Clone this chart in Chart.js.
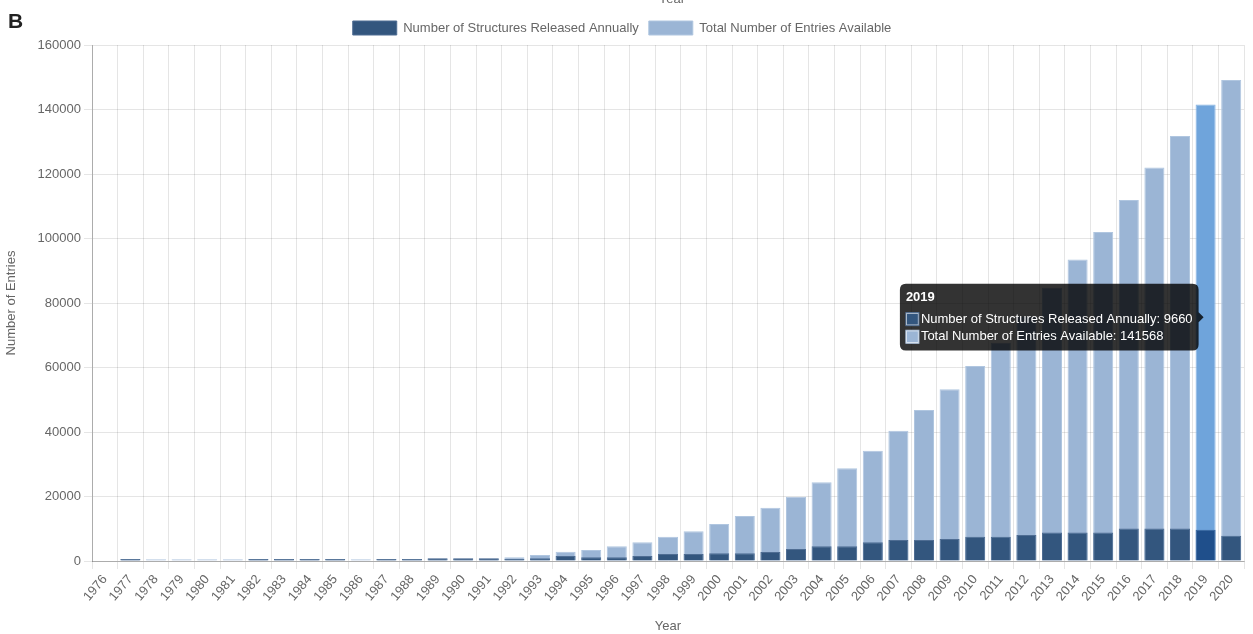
<!DOCTYPE html>
<html><head><meta charset="utf-8">
<script src="https://cdn.jsdelivr.net/npm/chart.js@4"></script>
<style>
html,body{margin:0;padding:0;background:#fff;}
#wrap{position:relative;width:1253px;height:634px;overflow:hidden;}
#lbl{position:absolute;left:8px;top:10px;font:bold 21px 'Liberation Sans',Arial,sans-serif;line-height:1;color:#222;}
</style></head><body>
<div id="wrap"><canvas id="c"></canvas><div id="lbl">B</div></div>
<script>
const years = ['1976','1977','1978','1979','1980','1981','1982','1983','1984','1985','1986','1987','1988','1989','1990','1991','1992','1993','1994','1995','1996','1997','1998','1999','2000','2001','2002','2003','2004','2005','2006','2007','2008','2009','2010','2011','2012','2013','2014','2015','2016','2017','2018','2019','2020'];
const annualReleased = [0,620,0,0,0,0,620,620,620,620,0,620,620,850,850,850,650,830,1550,1140,1140,1550,2170,2170,2380,2380,2790,3720,4550,4550,5790,6510,6500,6800,7500,7500,8100,8800,8800,8800,10100,10100,10100,9660,7850];
const totalEntries = [0,600,550,550,550,550,600,600,600,600,550,600,600,800,800,800,1140,1860,2890,3410,4550,5790,7540,9200,11470,13950,16530,19940,24390,28730,34200,40400,46810,53220,60450,67680,75900,84700,93520,101990,111910,122040,131750,141568,149110];
const seriesNames = ['Number of Structures Released Annually','Total Number of Entries Available'];
const activeYear = '2019';

Chart.defaults.font.family = "'Liberation Sans', Arial, Helvetica, sans-serif";
Chart.defaults.font.size = 13;
Chart.defaults.color = '#666';

const topTitle = {
  id: 'topTitle',
  afterDraw(chart) {
    const ctx = chart.ctx;
    ctx.save();
    ctx.font = "13px 'Liberation Sans', Arial, sans-serif";
    ctx.fillStyle = '#666';
    ctx.textAlign = 'center';
    ctx.textBaseline = 'alphabetic';
    ctx.fillText('Year', 672, 3);
    ctx.restore();
  }
};

const chart = new Chart(document.getElementById('c'), {
  type: 'bar',
  data: {
    labels: years,
    datasets: [
      {
        label: seriesNames[0],
        data: annualReleased,
        backgroundColor: '#33567e',
        borderColor: '#4f6d93',
        borderWidth: 1,
        hoverBackgroundColor: '#1f4f8b',
        hoverBorderColor: '#3a659c',
        grouped: false,
        barPercentage: 0.9,
        categoryPercentage: 0.87
      },
      {
        label: seriesNames[1],
        data: totalEntries,
        backgroundColor: '#9bb5d5',
        borderColor: '#b0c6e0',
        borderWidth: 1,
        hoverBackgroundColor: '#6fa4db',
        hoverBorderColor: '#86b3e2',
        grouped: false,
        barPercentage: 0.9,
        categoryPercentage: 0.87
      }
    ]
  },
  options: {
    responsive: true,
    maintainAspectRatio: false,
    animation: false,
    layout: { padding: { top: 11, right: 9, left: 0, bottom: 0 } },
    interaction: { mode: 'index', intersect: false },
    plugins: {
      legend: {
        position: 'top',
        labels: { boxWidth: 44, boxHeight: 14, color: '#666', font: { size: 13 } }
      },
      tooltip: {
        mode: 'index',
        intersect: false,
        backgroundColor: 'rgba(0,0,0,0.8)',
        titleFont: { size: 13, weight: 'bold' },
        bodyFont: { size: 13 },
        titleMarginBottom: 6,
        bodySpacing: 2,
        padding: 6,
        cornerRadius: 6,
        caretSize: 5,
        callbacks: {
          label: (ctx) => ctx.dataset.label + ': ' + ctx.raw
        }
      }
    },
    scales: {
      x: {
        grid: { color: 'rgba(0,0,0,0.1)', offset: true, tickLength: 8 },
        border: { color: 'rgba(0,0,0,0.25)' },
        ticks: { minRotation: 50, maxRotation: 50, autoSkip: false, color: '#666' },
        title: { display: true, text: 'Year', color: '#666', padding: { top: 4, bottom: 0 } },
        afterFit: (s) => { s.height = 73; }
      },
      y: {
        min: 0,
        max: 160000,
        grid: { color: 'rgba(0,0,0,0.1)', tickLength: 8 },
        border: { color: 'rgba(0,0,0,0.25)' },
        ticks: { stepSize: 20000, color: '#666', callback: (v) => String(v) },
        title: { display: true, text: 'Number of Entries', color: '#666', padding: 4 },
        afterFit: (s) => { s.width = 92; }
      }
    }
  },
  plugins: [topTitle]
});

const idx = years.indexOf(activeYear);
const active = [{ datasetIndex: 0, index: idx }, { datasetIndex: 1, index: idx }];
chart.setActiveElements(active);
const el = chart.getDatasetMeta(1).data[idx];
chart.tooltip.setActiveElements(active, { x: el.x, y: el.y });
chart.update();
</script>
</body></html>
